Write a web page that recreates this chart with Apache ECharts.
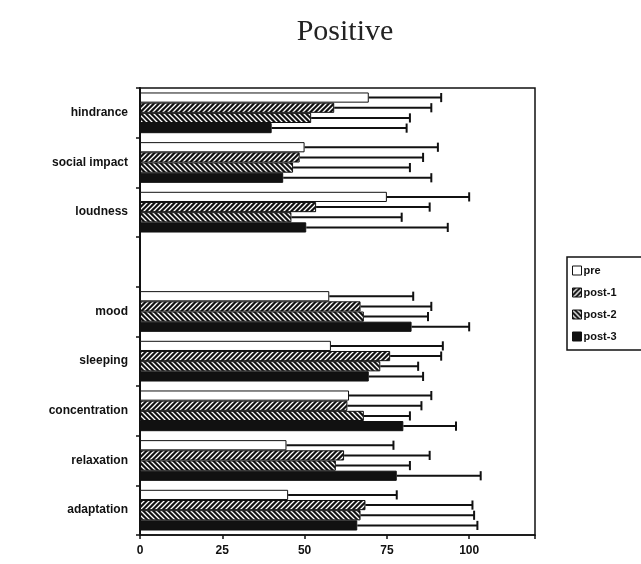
<!DOCTYPE html>
<html><head><meta charset="utf-8">
<script src="https://cdn.jsdelivr.net/npm/echarts@6/dist/echarts.min.js"></script>
<style>html,body{margin:0;padding:0;background:#fff}#c{width:641px;height:564px}</style>
</head><body><div id="c"></div>
<script>
var categories = ['hindrance','social impact','loudness','','mood','sleeping','concentration','relaxation','adaptation'];
var seriesNames = ['pre','post-1','post-2','post-3'];
var preMean   = [69.5, 50, 75, null, 57.5, 58, 63.5, 44.5, 45];
var post1Mean = [59, 48.5, 53.5, null, 67, 76, 63, 62, 68.5];
var post2Mean = [52, 46.5, 46, null, 68, 73, 68, 59.5, 67];
var post3Mean = [40, 43.5, 50.5, null, 82.5, 69.5, 80, 78, 66];
var preErr   = [22, 40.5, 25, null, 25.5, 34, 25, 32.5, 33];
var post1Err = [29.5, 37.5, 34.5, null, 21.5, 15.5, 22.5, 26, 32.5];
var post2Err = [30, 35.5, 33.5, null, 19.5, 11.5, 14, 22.5, 34.5];
var post3Err = [41, 45, 43, null, 17.5, 16.5, 16, 25.5, 36.5];
var xTicks = [0, 25, 50, 75, 100];

function hatch(dir){
  var s = 5, cv = document.createElement('canvas');
  cv.width = s; cv.height = s;
  var g = cv.getContext('2d');
  g.fillStyle = '#111'; g.fillRect(0,0,s,s);
  g.strokeStyle = '#fff'; g.lineWidth = 1.3;
  g.beginPath();
  if (dir > 0) { g.moveTo(-1, s+1); g.lineTo(s+1, -1); g.moveTo(-1-s, s+1); g.lineTo(1, -1); g.moveTo(s-1, s+1); g.lineTo(2*s+1, -1); }
  else { g.moveTo(-1, -1); g.lineTo(s+1, s+1); g.moveTo(-1-s, -1); g.lineTo(1, s+1); g.moveTo(s-1, -1); g.lineTo(2*s+1, s+1); }
  g.stroke();
  return {image: cv, repeat: 'repeat'};
}
var fills = ['#ffffff', hatch(1), hatch(-1), '#111111'];
var means = [preMean, post1Mean, post2Mean, post3Mean];
var errs = [preErr, post1Err, post2Err, post3Err];
var GAP = 0.18;

var series = [];
means.forEach(function(m, i){
  series.push({
    name: seriesNames[i], type: 'bar', data: m,
    barGap: '0%', barCategoryGap: (GAP*100)+'%',
    itemStyle: {color: fills[i], borderColor: '#111', borderWidth: 1},
    silent: true, z: 2
  });
});
means.forEach(function(m, i){
  var d = [];
  m.forEach(function(v, k){ if (v != null) d.push([k, v, errs[i][k]]); });
  series.push({
    name: 'err-' + seriesNames[i], type: 'custom', z: 3, silent: true,
    encode: {y: 0, x: 1},
    data: d,
    renderItem: function(params, api){
      var cat = api.value(0), v = api.value(1), e = api.value(2);
      var c0 = api.coord([v, cat]), c1 = api.coord([v + e, cat]);
      var band = api.size([0, 1])[1];
      var bw = band * (1 - GAP) / 4;
      var y = c0[1] - band * (1 - GAP) / 2 + (i + 0.5) * bw;
      return {type: 'group', children: [
        {type: 'line', shape: {x1: c0[0], y1: y, x2: c1[0], y2: y}, style: {stroke: '#111', lineWidth: 2}},
        {type: 'line', shape: {x1: c1[0], y1: y - bw/2 + 0.5, x2: c1[0], y2: y + bw/2 - 0.5}, style: {stroke: '#111', lineWidth: 2}}
      ]};
    }
  });
});

var chart = echarts.init(document.getElementById('c'));
chart.setOption({
  animation: false,
  backgroundColor: '#fff',
  title: {text: 'Positive', left: 340, top: 12, textAlign: 'center',
    textStyle: {fontFamily: 'Liberation Serif', fontWeight: 'normal', fontSize: 30, color: '#222'}},
  legend: {
    data: seriesNames, orient: 'vertical', left: 567, top: 257,
    itemWidth: 9, itemHeight: 9, itemGap: 11,
    borderColor: '#111', borderWidth: 1.5, padding: [8, 40, 8, 5],
    icon: 'rect',
    itemStyle: {borderColor: '#111', borderWidth: 1},
    textStyle: {fontFamily: 'Liberation Sans', fontWeight: 'bold', fontSize: 11, color: '#111', padding: [0,0,0,-3]}
  },
  grid: {left: 140, right: 106, top: 88, bottom: 29, show: true, borderColor: '#111', borderWidth: 1.5, backgroundColor: 'transparent'},
  xAxis: {
    type: 'value', min: 0, max: 120, interval: 25,
    axisLine: {show: true, lineStyle: {color: '#111', width: 1.5}},
    axisTick: {show: true, length: 4, lineStyle: {color: '#111', width: 1.5}},
    splitLine: {show: false},
    axisLabel: {fontFamily: 'Liberation Sans', fontWeight: 'bold', fontSize: 12, color: '#111', margin: 10,
      formatter: function(v){ return xTicks.indexOf(v) >= 0 ? String(v) : ''; }}
  },
  yAxis: {
    type: 'category', data: categories, inverse: true,
    axisLine: {show: true, lineStyle: {color: '#111', width: 2}},
    axisTick: {show: true, length: 4, lineStyle: {color: '#111', width: 1.5}},
    axisLabel: {fontFamily: 'Liberation Sans', fontWeight: 'bold', fontSize: 12, color: '#111', margin: 12}
  },
  series: series
});
</script></body></html>
